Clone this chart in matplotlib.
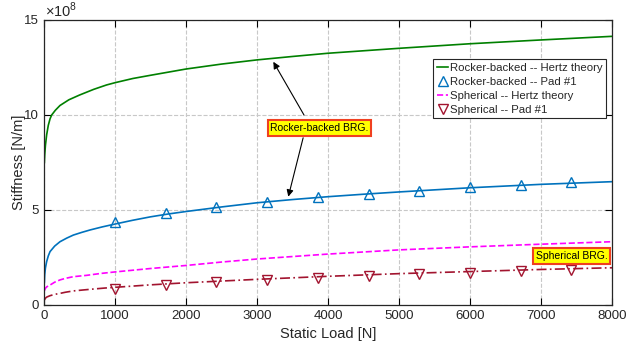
import matplotlib
matplotlib.use('Agg')
import matplotlib.pyplot as plt

plt.rcParams['font.family'] = ['Liberation Sans', 'DejaVu Sans']
plt.rcParams['mathtext.fontset'] = 'custom'
plt.rcParams['mathtext.rm'] = 'Liberation Sans'

# stiffness values in units of 1e8 N/m
load_rb_hertz = [5, 10, 20, 37, 60, 85, 108, 160, 225, 350, 500, 700, 880, 1000, 1250, 1500,
                 2000, 2500, 3000, 3500, 4000, 5000, 6000, 7000, 8000]
k_rb_hertz = [7.5, 7.9, 8.4, 8.95, 9.45, 9.8, 10.0, 10.25, 10.5, 10.8, 11.05, 11.35, 11.58, 11.7,
              11.92, 12.09, 12.42, 12.68, 12.9, 13.08, 13.25, 13.51, 13.75, 13.95, 14.14]

load_rb_fit = [5, 10, 20, 37, 60, 85, 150, 225, 320, 413, 530, 650, 820, 1000, 1250, 1500, 1750,
               2000, 2500, 3000, 3500, 4000, 4500, 5000, 6000, 7000, 8000]
k_rb_fit = [1.19, 1.6, 1.95, 2.28, 2.58, 2.81, 3.1, 3.33, 3.52, 3.68, 3.82, 3.95, 4.11, 4.26, 4.46,
            4.64, 4.79, 4.92, 5.16, 5.38, 5.55, 5.70, 5.83, 5.95, 6.17, 6.35, 6.49]

load_sp_hertz = [5, 20, 40, 85, 150, 225, 300, 413, 600, 800, 1000, 1500, 2000, 2500, 3000, 4000,
                 5000, 6000, 7000, 8000]
k_sp_hertz = [0.75, 0.88, 0.96, 1.05, 1.2, 1.32, 1.40, 1.49, 1.56, 1.66, 1.74, 1.92, 2.08, 2.26,
              2.42, 2.68, 2.90, 3.06, 3.20, 3.33]

load_sp_fit = [5, 20, 40, 85, 150, 225, 300, 413, 550, 695, 850, 1000, 1500, 2000, 2500, 3000,
               4000, 5000, 6000, 7000, 8000]
k_sp_fit = [0.26, 0.36, 0.42, 0.49, 0.56, 0.61, 0.67, 0.74, 0.79, 0.84, 0.89, 0.93, 1.06, 1.17,
            1.26, 1.35, 1.51, 1.65, 1.76, 1.87, 1.96]

load_pad = [1000, 1714, 2429, 3143, 3857, 4571, 5286, 6000, 6714, 7429]
k_rb_pad = [4.36, 4.84, 5.16, 5.42, 5.67, 5.84, 6.02, 6.19, 6.33, 6.46]
k_sp_pad = [0.85, 1.03, 1.23, 1.33, 1.43, 1.52, 1.62, 1.69, 1.77, 1.84]

green = '#008000'
blue = '#0072BD'
magenta = '#FF00FF'
darkred = '#A2142F'

fig = plt.figure(figsize=(6.26, 3.49), dpi=100)
ax = fig.add_axes([0.0703, 0.1261, 0.9073, 0.8166])

ax.plot(load_rb_hertz, k_rb_hertz, '-', color=green, lw=1.2, label='Rocker-backed -- Hertz theory')
ax.plot(load_rb_fit, k_rb_fit, '-', color=blue, lw=1.2)
ax.plot(load_pad, k_rb_pad, '^', color=blue, mfc='none', ms=7, mew=1.0, ls='none',
        label='Rocker-backed -- Pad #1')
ax.plot(load_sp_hertz, k_sp_hertz, '--', color=magenta, lw=1.2, label='Spherical -- Hertz theory')
ax.plot(load_sp_fit, k_sp_fit, '-.', color=darkred, lw=1.2, dashes=(6, 2, 1, 2))
ax.plot(load_pad, k_sp_pad, 'v', color=darkred, mfc='none', ms=7, mew=1.0, ls='none',
        label='Spherical -- Pad #1')

ax.set_xlim(0, 8000)
ax.set_ylim(0, 15)
ax.set_xticks(range(0, 8001, 1000))
ax.set_yticks([0, 5, 10, 15])
ax.grid(True, ls='--', color='#c8c8c8', lw=0.8)
ax.tick_params(direction='in', top=True, right=True, length=5, labelsize=9.5,
               colors='k', labelcolor='#262626')
for s in ax.spines.values():
    s.set_color('#262626')
    s.set_linewidth(0.9)

ax.set_xlabel('Static Load [N]', fontsize=10.5, color='#262626', labelpad=4)
ax.set_ylabel('Stiffness [N/m]', fontsize=10.5, color='#262626', labelpad=-1)
ax.text(0.002, 1.0, r'$\times10^{8}$', transform=ax.transAxes, fontsize=10.5, color='#262626',
        va='bottom', ha='left')

leg = ax.legend(loc='upper right', bbox_to_anchor=(0.9894, 0.862), borderaxespad=0,
                fontsize=8.2, handlelength=1.0, handletextpad=0.15, labelspacing=0.35,
                borderpad=0.3, fancybox=False, framealpha=1, edgecolor='#262626')
leg.get_frame().set_linewidth(0.8)
for t in leg.get_texts():
    t.set_color('#262626')

box = dict(boxstyle='square,pad=0.25', fc='yellow', ec='#F04020', lw=1.5)
ax.text(3880, 9.32, 'Rocker-backed BRG.', fontsize=7.5, ha='center', va='center', bbox=box)
ax.text(7430, 2.58, 'Spherical BRG.', fontsize=7.5, ha='center', va='center', bbox=box)

arr = dict(arrowstyle='-|>', color='k', lw=0.8, mutation_scale=10, shrinkA=0, shrinkB=0)
ax.annotate('', xy=(3230, 12.8), xytext=(3662, 10.0), arrowprops=arr)
ax.annotate('', xy=(3441, 5.70), xytext=(3650, 8.8), arrowprops=arr)

fig.savefig('out.png', dpi=100)
